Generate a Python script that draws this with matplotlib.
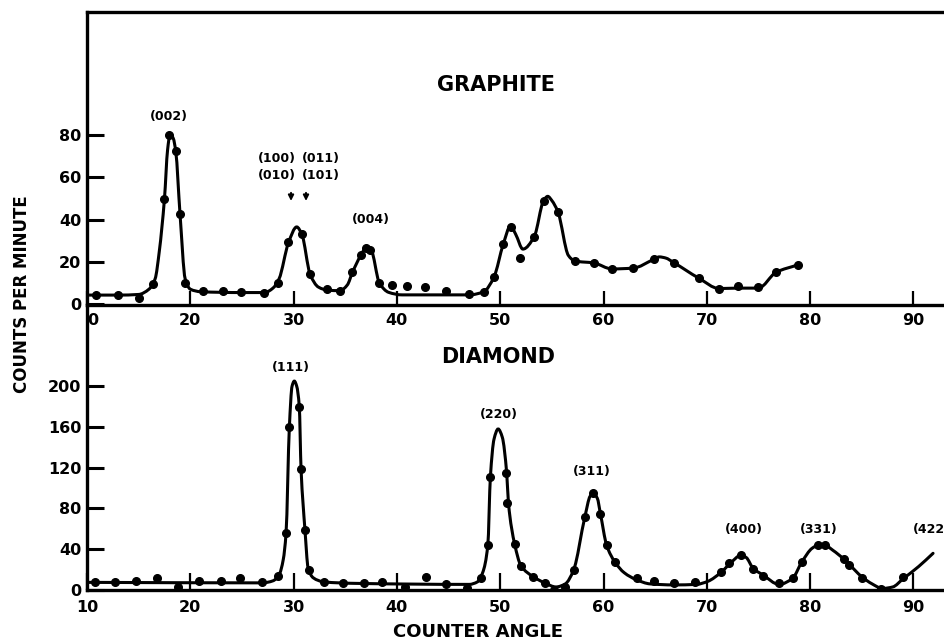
import numpy as np
import matplotlib
matplotlib.use("Agg")
import matplotlib.pyplot as plt
from matplotlib.path import Path
from matplotlib.patches import PathPatch

plt.rcParams["font.family"] = "DejaVu Sans"
plt.rcParams["font.weight"] = "bold"

# graphite: measured points and the drawn fit line
gr_x = [10.9, 13.0, 15.0, 16.4, 17.5, 17.9, 18.6, 19.0, 19.5, 21.2, 23.2, 24.9, 27.1,
        28.5, 29.5, 30.8, 31.6, 33.2, 34.5, 35.7, 36.5, 37.0, 37.4, 38.3, 39.5, 41.0,
        42.7, 44.8, 47.0, 48.4, 49.4, 50.3, 51.0, 51.9, 53.3, 54.2, 55.6, 57.2, 59.1,
        60.8, 62.9, 64.9, 66.8, 69.2, 71.2, 73.0, 75.0, 76.7, 78.8]
gr_y = [4.3, 4.3, 3.0, 9.5, 49.8, 80.0, 72.5, 42.6, 10.0, 6.2, 6.2, 5.7, 5.2,
        10.0, 29.4, 33.0, 14.0, 7.0, 6.3, 15.0, 23.0, 26.5, 25.6, 10.0, 9.0, 8.7,
        8.0, 6.0, 4.5, 5.7, 12.8, 28.4, 36.5, 21.8, 31.8, 48.8, 43.6, 20.4, 19.4,
        16.6, 17.0, 21.3, 19.6, 12.3, 7.1, 8.5, 7.8, 15.2, 18.5]
gr_fit_x = [10.0, 13.0, 15.0, 16.0, 16.6, 17.0, 17.5, 17.8, 18.05, 18.35, 18.6, 19.0, 19.5,
            20.0, 21.0, 25.0, 27.2, 28.0, 28.6, 29.5, 30.3, 30.8, 31.6, 32.4, 33.3, 34.5,
            35.2, 35.7, 36.5, 37.0, 37.5, 38.3, 39.2, 40.5, 47.0, 48.4, 49.4, 50.3, 51.0,
            51.5, 52.2, 53.3, 54.2, 54.6, 55.0, 55.6, 56.6, 57.2, 59.1, 60.8, 62.9, 64.8,
            65.4, 66.0, 66.8, 69.2, 71.2, 73.0, 75.0, 76.7, 78.8]
gr_fit_y = [4.2, 4.2, 4.5, 7.0, 12.0, 25.0, 50.0, 73.0, 80.5, 78.5, 72.0, 43.0, 12.0,
            7.0, 5.8, 5.4, 5.4, 7.5, 12.0, 29.0, 36.5, 33.0, 14.0, 8.0, 6.5, 6.3,
            9.0, 15.0, 23.0, 26.5, 25.5, 10.0, 5.5, 4.3, 4.3, 5.8, 12.8, 28.4, 37.0,
            33.0, 26.0, 32.0, 49.0, 51.0, 49.0, 43.5, 23.0, 20.4, 19.4, 16.6, 17.0, 21.0,
            22.3, 21.8, 19.6, 12.3, 7.3, 7.5, 7.5, 15.0, 18.5]

# diamond: measured points and the drawn fit line
di_x = [10.8, 12.7, 14.7, 16.8, 18.8, 20.8, 23.0, 24.8, 26.9, 28.5, 29.3, 29.6, 30.55,
        30.7, 31.1, 31.5, 32.9, 34.8, 36.8, 38.6, 40.8, 42.8, 44.8, 46.8, 48.1, 48.8,
        49.0, 50.6, 50.7, 51.4, 52.0, 53.2, 54.3, 55.2, 56.3, 57.1, 58.2, 59.0, 59.7,
        60.3, 61.1, 63.2, 64.9, 66.8, 68.9, 71.4, 72.1, 73.3, 74.5, 75.4, 77.0, 78.3,
        79.2, 80.8, 81.4, 83.3, 83.8, 85.0, 86.9, 89.0]
di_y = [7.5, 7.5, 9.0, 11.5, 3.0, 9.0, 8.5, 11.5, 7.5, 14.0, 56.0, 160.0, 180.0,
        119.0, 59.0, 20.0, 8.0, 7.0, 7.0, 7.5, 3.0, 13.0, 6.0, 2.0, 12.0, 44.0,
        111.0, 114.5, 85.0, 45.0, 24.0, 13.0, 7.0, 0.0, 3.0, 19.5, 72.0, 95.0, 75.0,
        44.0, 27.5, 11.5, 9.0, 7.0, 8.0, 17.5, 26.5, 34.0, 20.5, 14.0, 6.5, 11.5,
        27.5, 44.0, 44.0, 30.0, 24.5, 12.0, 1.0, 12.5]
di_fit_x = [10.0, 27.0, 28.0, 28.6, 29.0, 29.27, 29.59, 29.85, 30.07, 30.3, 30.55, 30.72,
            31.1, 31.4, 31.9, 32.9, 36.0, 47.0, 47.8, 48.3, 48.8, 49.05, 49.4, 49.8,
            50.2, 50.63, 50.8, 51.4, 52.0, 53.2, 54.3, 55.4, 56.3, 57.1, 58.2, 58.7,
            59.0, 59.4, 59.7, 60.3, 61.1, 62.0, 63.2, 64.5, 66.8, 69.0, 70.1, 71.4,
            72.3, 73.3, 73.8, 74.5, 75.4, 77.0, 78.3, 79.2, 80.2, 80.8, 81.4, 82.2,
            83.3, 83.8, 85.0, 86.0, 87.0, 88.0, 89.0, 90.5, 91.9]
di_fit_y = [7.5, 7.0, 9.0, 15.0, 30.0, 56.0, 160.0, 200.0, 205.0, 200.0, 180.0, 119.0,
            59.0, 22.0, 12.0, 8.0, 6.5, 5.5, 8.0, 17.0, 44.0, 111.0, 148.0, 158.0,
            150.0, 114.5, 85.0, 45.0, 24.0, 13.0, 7.0, 3.0, 6.0, 19.5, 72.0, 92.0,
            95.0, 90.0, 75.0, 44.0, 27.5, 17.0, 10.0, 6.0, 5.0, 5.5, 8.5, 17.5,
            26.5, 34.0, 32.0, 21.0, 15.0, 5.5, 11.5, 27.5, 41.0, 44.0, 44.0, 39.0,
            30.0, 25.0, 13.0, 6.0, 1.5, 3.0, 11.0, 23.0, 36.0]

gr_labels = [("(002)", 17.94, 89), ("(100)", 28.36, 69), ("(011)", 32.6, 69),
             ("(010)", 28.36, 61), ("(101)", 32.6, 61), ("(004)", 37.46, 39.8)]
gr_arrows = [29.75, 31.2]
di_labels = [("(111)", 29.75, 218.8), ("(220)", 49.9, 172.4), ("(311)", 58.86, 116),
             ("(400)", 73.6, 59.5), ("(331)", 80.8, 59.5)]

gr_xticks = [10, 20, 30, 40, 50, 60, 70, 80, 90]
gr_xticklabels = ["0", "20", "30", "40", "50", "60", "70", "80", "90"]
gr_yticks = [0, 20, 40, 60, 80]
di_xticks = [10, 20, 30, 40, 50, 60, 70, 80, 90]
di_yticks = [0, 40, 80, 120, 160, 200]


def fit_path(xs, ys):
    # monotone cubic through the knots, drawn as bezier segments
    x = np.asarray(xs, float)
    y = np.asarray(ys, float)
    h = np.diff(x)
    d = np.diff(y) / h
    m = np.zeros_like(x)
    m[0], m[-1] = d[0], d[-1]
    for k in range(1, len(x) - 1):
        if d[k - 1] * d[k] > 0:
            w1 = 2 * h[k] + h[k - 1]
            w2 = h[k] + 2 * h[k - 1]
            m[k] = (w1 + w2) / (w1 / d[k - 1] + w2 / d[k])
    verts = [(x[0], y[0])]
    codes = [Path.MOVETO]
    for k in range(len(h)):
        verts += [(x[k] + h[k] / 3, y[k] + m[k] * h[k] / 3),
                  (x[k + 1] - h[k] / 3, y[k + 1] - m[k + 1] * h[k] / 3),
                  (x[k + 1], y[k + 1])]
        codes += [Path.CURVE4] * 3
    return PathPatch(Path(verts, codes), fill=False, lw=2.2, ec="black", capstyle="round")


fig = plt.figure(figsize=(9.44, 6.44), dpi=100)
left = 87 / 944
ax2 = fig.add_axes([left, 1 - 590 / 644, 1 - left, 285 / 644])
ax1 = fig.add_axes([left, 1 - 305 / 644, 1 - left, 293 / 644])

for ax in (ax1, ax2):
    ax.patch.set_visible(False)
    ax.set_xlim(10, 92.96)
    ax.spines["right"].set_visible(False)
    for s in ax.spines.values():
        s.set_linewidth(2.4)
    ax.tick_params(axis="y", direction="in", length=12, width=2.2, pad=4, labelsize=11.5)
ax2.spines["top"].set_visible(False)

ax1.set_ylim(-0.5, 138.4)
ax2.set_ylim(0, 279.7)

ax1.set_xticks(gr_xticks)
ax1.set_xticklabels(gr_xticklabels)
ax1.get_xticklabels()[0].set_ha("left")
ax1.set_yticks(gr_yticks)
ax1.tick_params(axis="x", direction="in", length=10, width=1.6, pad=6, labelsize=11.5)
ax2.set_xticks(di_xticks)
ax2.set_yticks(di_yticks)
ax2.tick_params(axis="x", direction="in", length=12, width=1.6, pad=7, labelsize=11.5)

ax1.add_patch(fit_path(gr_fit_x, gr_fit_y))
ax1.plot(gr_x, gr_y, "o", color="black", ms=5.5)
ax2.add_patch(fit_path(di_fit_x, di_fit_y))
ax2.plot(di_x, di_y, "o", color="black", ms=5.5)

for txt, x, y in gr_labels:
    ax1.text(x, y, txt, ha="center", va="center", fontsize=9)
for x in gr_arrows:
    ax1.annotate("", xy=(x, 47.5), xytext=(x, 54),
                 arrowprops=dict(arrowstyle="-|>", lw=1.4, color="black", mutation_scale=8))
for txt, x, y in di_labels:
    ax2.text(x, y, txt, ha="center", va="center", fontsize=9)
ax2.text(89.96, 59.5, "(422)", ha="left", va="center", fontsize=9)

ax1.text(49.6, 104, "GRAPHITE", ha="center", va="center", fontsize=15)
ax2.text(49.8, 228.7, "DIAMOND", ha="center", va="center", fontsize=15)

fig.text(22 / 944, 1 - 294 / 644, "COUNTS PER MINUTE", rotation=90,
         ha="center", va="center", fontsize=12)
fig.text(478 / 944, 1 - 632 / 644, "COUNTER ANGLE", ha="center", va="center", fontsize=13)

fig.savefig("out.png", dpi=100, facecolor="white")
